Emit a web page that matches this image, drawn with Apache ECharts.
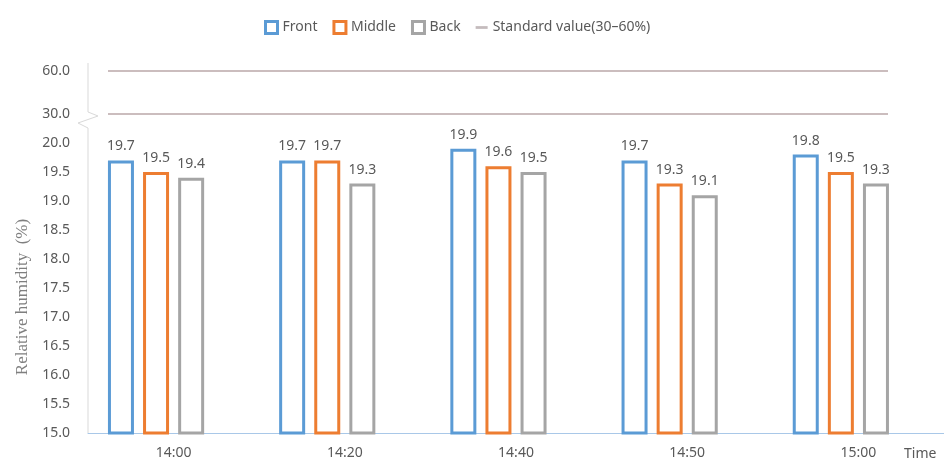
<!DOCTYPE html>
<html>
<head>
<meta charset="utf-8">
<script src="https://cdn.jsdelivr.net/npm/echarts@6/dist/echarts.min.js"></script>
<style>
  html, body { margin: 0; padding: 0; background: #fff; }
  #chart { width: 944px; height: 461px; }
</style>
</head>
<body>
<div id="chart"></div>
<script>
// Measurement times and humidity readings (%) at three positions
const TIMES = ['14:00', '14:20', '14:40', '14:50', '15:00'];
const FRONT = [19.7, 19.7, 19.9, 19.7, 19.8];
const MIDDLE = [19.5, 19.7, 19.6, 19.3, 19.5];
const BACK = [19.4, 19.3, 19.5, 19.1, 19.3];
// Standard humidity range bounds (%)
const STANDARD = [30, 60];
// Axis ranges: lower part for readings, upper part for the standard range
const LOWER_RANGE = [15, 20, 0.5];
const UPPER_RANGE = [30, 60, 30];

const FONT = 'Noto Sans';
const TEXT = '#595959';
const COLORS = { front: '#5B9BD5', middle: '#ED7D31', back: '#A5A5A5', standard: '#CBBDBE' };

// layout
const AXIS_X = 88;
const LOWER_TOP = 143, LOWER_BOTTOM = 433;
const UPPER_TOP = 71, UPPER_BOTTOM = 114;

const chart = echarts.init(document.getElementById('chart'), null, { renderer: 'canvas' });

function barSeries(name, data, color) {
  return {
    name, type: 'bar', xAxisIndex: 0, yAxisIndex: 0,
    data,
    barWidth: 26,
    barGap: '35%',
    itemStyle: { color: '#fff', borderColor: color, borderWidth: 3 },
    label: {
      show: true, position: 'top', distance: 7,
      color: TEXT, fontFamily: FONT, fontSize: 14,
      formatter: p => p.value.toFixed(1)
    },
    emphasis: { disabled: true }
  };
}

const fmt = v => v.toFixed(1);

chart.setOption({
  animation: false,
  backgroundColor: '#fff',
  legend: {
    left: 259, top: 15,
    itemWidth: 12, itemHeight: 12, itemGap: 15,
    textStyle: { color: TEXT, fontFamily: FONT, fontSize: 14 },
    data: [
      { name: 'Front', icon: 'rect', itemStyle: { color: '#fff', borderColor: COLORS.front, borderWidth: 3 } },
      { name: 'Middle', icon: 'rect', itemStyle: { color: '#fff', borderColor: COLORS.middle, borderWidth: 3 } },
      { name: 'Back', icon: 'rect', itemStyle: { color: '#fff', borderColor: COLORS.back, borderWidth: 3 } },
      { name: 'Standard value(30–60%)', icon: 'path://M0,4.5 L13,4.5 L13,7.5 L0,7.5 Z', itemStyle: { color: '#C4BBBD' } }
    ]
  },
  grid: [
    { left: AXIS_X, top: LOWER_TOP, width: 857.5, height: LOWER_BOTTOM - LOWER_TOP },
    { left: 108, top: UPPER_TOP, width: 780, height: UPPER_BOTTOM - UPPER_TOP }
  ],
  xAxis: [
    {
      gridIndex: 0, type: 'category', data: TIMES,
      axisLine: { show: true, lineStyle: { color: '#A9C8E8', width: 1 } },
      axisTick: { show: false },
      axisLabel: { color: TEXT, fontFamily: FONT, fontSize: 14, margin: 13 },
      name: 'Time', nameLocation: 'end', nameGap: -40,
      nameTextStyle: {
        color: TEXT, fontFamily: FONT, fontSize: 14,
        align: 'left', verticalAlign: 'top', padding: [14, 0, 0, 0]
      }
    },
    { gridIndex: 1, type: 'value', min: 0, max: 1, show: false }
  ],
  yAxis: [
    {
      gridIndex: 0, type: 'value',
      min: LOWER_RANGE[0], max: LOWER_RANGE[1], interval: LOWER_RANGE[2],
      axisLine: { show: false }, axisTick: { show: false }, splitLine: { show: false },
      axisLabel: { color: TEXT, fontFamily: FONT, fontSize: 14, margin: 18, formatter: fmt },
      name: 'Relative humidity  (%)', nameLocation: 'middle', nameGap: 56,
      nameTextStyle: {
        color: '#7F7F7F', fontFamily: 'Liberation Serif', fontSize: 17,
        padding: [0, 18, 0, 0]
      }
    },
    {
      gridIndex: 1, type: 'value',
      min: UPPER_RANGE[0], max: UPPER_RANGE[1], interval: UPPER_RANGE[2],
      axisLine: { show: false }, axisTick: { show: false }, splitLine: { show: false },
      axisLabel: { color: TEXT, fontFamily: FONT, fontSize: 14, margin: 38, formatter: fmt }
    }
  ],
  series: [
    barSeries('Front', FRONT, COLORS.front),
    barSeries('Middle', MIDDLE, COLORS.middle),
    barSeries('Back', BACK, COLORS.back),
    // empty slot reserving room beside each group
    { name: 'slot', type: 'bar', xAxisIndex: 0, yAxisIndex: 0, data: [], barWidth: 26, barGap: '35%' },
    {
      name: 'Standard value(30–60%)', type: 'line', xAxisIndex: 1, yAxisIndex: 1,
      data: [], symbol: 'none', color: '#C4BBBD',
      markLine: {
        silent: true, symbol: 'none', label: { show: false },
        lineStyle: { color: COLORS.standard, width: 2, type: 'solid' },
        data: STANDARD.map(v => ({ yAxis: v }))
      }
    }
  ],
  graphic: [
    {
      // value axis line with a break mark between the two ranges
      type: 'polyline', silent: true, z: 10,
      shape: { points: [[AXIS_X, 63], [AXIS_X, 112], [98, 116], [78, 123], [AXIS_X, 128], [AXIS_X, LOWER_BOTTOM]] },
      style: { stroke: '#D9D9D9', lineWidth: 1, fill: null }
    }
  ]
});
</script>
</body>
</html>
